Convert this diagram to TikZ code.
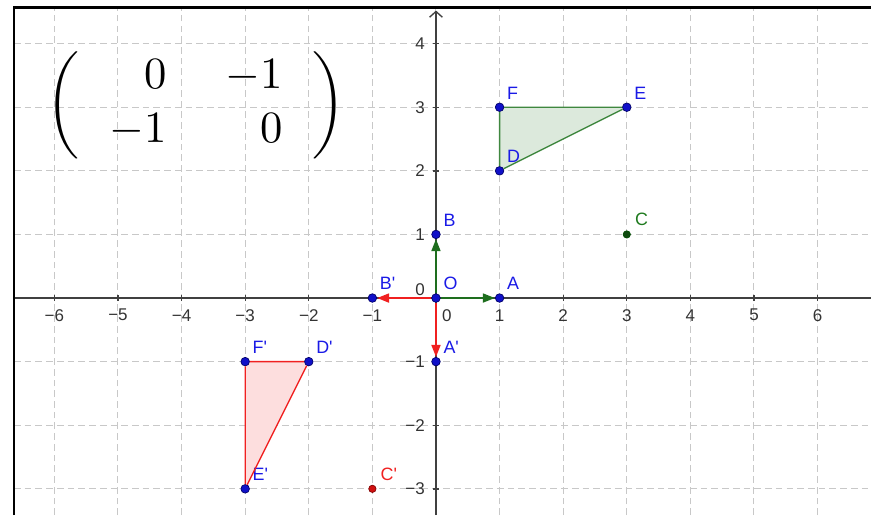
\documentclass[tikz,border=0pt]{standalone}
\usepackage{fontspec}
\usepackage{amsmath}
\usepackage{graphicx}
\usetikzlibrary{arrows.meta, positioning, backgrounds}
\newfontfamily\labelfont{Liberation Sans}
\definecolor{gridgray}{HTML}{C8C8C8}
\definecolor{axisgray}{HTML}{404040}
\definecolor{ptblue}{HTML}{1010C8}
\definecolor{lblblue}{HTML}{1A1AE6}
\definecolor{vecgreen}{HTML}{1E6E1E}
\definecolor{trigreen}{HTML}{3F873F}
\definecolor{ptgreen}{HTML}{0F4A0F}
\definecolor{lblgreen}{HTML}{1E7A1E}
\definecolor{vecred}{HTML}{F02020}
\definecolor{ptred}{HTML}{D01010}
\newcommand\ticknum[1]{\ifnum#1<0 \char"2212\relax\number\numexpr0-(#1)\relax\else#1\fi}

\begin{document}
\begin{tikzpicture}[
    gridline/.style={gridgray, line width=0.45pt, dash pattern=on 3pt off 1.8pt},
    axis/.style={axisgray, line width=0.6pt},
    tick/.style={font=\labelfont\fontsize{7.6}{9}\selectfont, text=black!80, inner sep=0pt},
    pt/.style={circle, fill=ptblue, draw=black!60!blue, line width=0.3pt,
               inner sep=0pt, minimum size=0.135cm},
    lbl/.style={font=\labelfont\fontsize{8}{9}\selectfont, text=lblblue, inner sep=0pt},
    vecg/.style={-{Triangle[length=0.19cm,width=0.14cm]}, vecgreen, line width=0.9pt},
    vecr/.style={-{Triangle[length=0.19cm,width=0.14cm]}, vecred, line width=0.9pt},
    trig/.style={trigreen, line width=0.6pt},
    trir/.style={vecred, line width=0.6pt}
  ]
    \useasboundingbox (-6.855,-3.412) rectangle (6.840,4.686);

    % points
    \node[pt] (O)  at (0,0)   {};
    \node[pt] (A)  at (1,0)   {};
    \node[pt] (B)  at (0,1)   {};
    \node[pt] (Ap) at (0,-1)  {};
    \node[pt] (Bp) at (-1,0)  {};
    \node[pt] (D)  at (1,2)   {};
    \node[pt] (E)  at (3,3)   {};
    \node[pt] (F)  at (1,3)   {};
    \node[pt] (Dp) at (-2,-1) {};
    \node[pt] (Ep) at (-3,-3) {};
    \node[pt] (Fp) at (-3,-1) {};
    \node[pt, fill=ptgreen, draw=black!70!green, minimum size=0.115cm] (C)  at (3,1)   {};
    \node[pt, fill=ptred, draw=black!50!red, minimum size=0.115cm]     (Cp) at (-1,-3) {};

    % labels
    \node[lbl, above right=0.07cm and 0.06cm of O]  (lO)  {O};
    \node[lbl, above right=0.07cm and 0.06cm of A]  (lA)  {A};
    \node[lbl, above right=0.07cm and 0.06cm of B]  (lB)  {B};
    \node[lbl, above right=0.07cm and 0.06cm of Ap] (lAp) {A'};
    \node[lbl, above right=0.07cm and 0.06cm of Bp] (lBp) {B'};
    \node[lbl, above right=0.07cm and 0.06cm of D]  (lD)  {D};
    \node[lbl, above right=0.07cm and 0.06cm of E]  (lE)  {E};
    \node[lbl, above right=0.07cm and 0.06cm of F]  (lF)  {F};
    \node[lbl, above right=0.07cm and 0.06cm of Dp] (lDp) {D'};
    \node[lbl, above right=0.07cm and 0.06cm of Ep] (lEp) {E'};
    \node[lbl, above right=0.07cm and 0.06cm of Fp] (lFp) {F'};
    \node[lbl, text=lblgreen, above right=0.08cm and 0.08cm of C] (lC) {C};
    \node[lbl, text=vecred, above right=0.08cm and 0.08cm of Cp] (lCp) {C'};

    % matrix
    \node (mat) at (-3.774,3.035)
      {\scalebox{2.0}{\setlength\arraycolsep{6.6pt}%
        $\left(\begin{array}{rr}0 & -1\\ -1 & 0\end{array}\right)$}};

    % triangles and vectors
    \draw[trig] (D) -- (E) -- (F) -- (D);
    \draw[trir] (Dp) -- (Ep) -- (Fp) -- (Dp);
    \draw[vecg] (O) -- (A);
    \draw[vecg] (O) -- (B);
    \draw[vecr] (O) -- (Bp);
    \draw[vecr] (O) -- (Ap);

    \begin{scope}[on background layer]
      \foreach \x in {-6,...,6}
        \draw[gridline] (\x,-3.412) -- (\x,4.567);
      \foreach \y in {-3,...,4}
        \draw[gridline] (-6.635,\y) -- (6.84,\y);
      \fill[trigreen!18] (D.center) -- (E.center) -- (F.center) -- cycle;
      \fill[vecred!15] (Dp.center) -- (Ep.center) -- (Fp.center) -- cycle;
      \draw[axis] (-6.635,0) -- (6.84,0);
      \draw[axis, -{Straight Barb[length=0.09cm,width=0.2cm]}] (0,-3.412) -- (0,4.52);
      \foreach \x in {-6,...,6}
        \draw[axis] (\x,-0.05) -- (\x,0.05);
      \foreach \y in {-3,...,4}
        \draw[axis] (-0.05,\y) -- (0.05,\y);
    \end{scope}

    % tick labels
    \foreach \x in {-6,...,-1,1,2,...,6}
      \node[tick] (tx\x) at (\x,-0.27) {\ticknum{\x}};
    \foreach \y in {-3,...,-1,1,2,3,4}
      \node[tick, anchor=east] (ty\y) at (-0.17,\y) {\ticknum{\y}};
    \node[tick] (tx0) at (0.17,-0.27) {0};
    \node[tick, anchor=east] (ty0) at (-0.17,0.13) {0};

    % frame
    \draw[line width=1pt] (-6.635,-3.412) -- (-6.635,4.567) -- (6.84,4.567);
  \end{tikzpicture}
\end{document}
